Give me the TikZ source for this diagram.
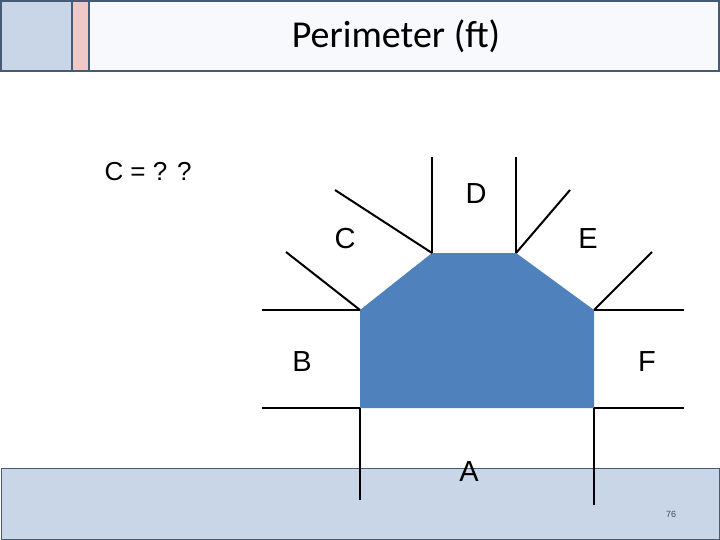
\documentclass[tikz,border=0pt]{standalone}
\usepackage{fontspec}
\setmainfont{Liberation Sans}
\newfontfamily\titlefont{Carlito}
\begin{document}
\begin{tikzpicture}[x=1pt,y=-1pt,
  seg/.style={line width=2pt,black},
  lab/.style={font=\fontsize{29}{32}\selectfont}]
\useasboundingbox (0,0) rectangle (720,540);
\fill[white] (0,0) rectangle (720,540);
\definecolor{bandblue}{RGB}{200,214,232}
\definecolor{bandpink}{RGB}{240,200,200}
\definecolor{bandwhite}{RGB}{248,249,253}
\definecolor{edgec}{RGB}{70,90,115}
\definecolor{fillc}{RGB}{79,129,189}
\draw[fill=bandblue,draw=edgec,line width=1.5pt] (1,1) rectangle (72,71);
\draw[fill=bandpink,draw=edgec,line width=1.5pt] (72,1) rectangle (89,71);
\draw[fill=bandwhite,draw=edgec,line width=1.5pt] (89,1) rectangle (719,71);
\draw[fill=bandblue,draw=edgec,line width=1pt] (1,468) rectangle (719,539);
\node[font=\titlefont\fontsize{38}{40}\selectfont] (title) at (396,36) {Perimeter (ft)};
\fill[fillc] (360,310) -- (432,253) -- (516,253) -- (594,310) -- (594,408) -- (360,408) -- cycle;
\coordinate (p1) at (360,310); \coordinate (p2) at (432,253);
\coordinate (p3) at (516,253); \coordinate (p4) at (594,310);
\coordinate (p5) at (594,408); \coordinate (p6) at (360,408);
\coordinate (q1) at (262,310); \coordinate (q2) at (286,252);
\coordinate (q3) at (335,190); \coordinate (q4) at (432,157);
\coordinate (q5) at (516,157); \coordinate (q6) at (570,190);
\coordinate (q7) at (652,252); \coordinate (q8) at (684,310);
\coordinate (q9) at (262,408); \coordinate (q10) at (360,500);
\coordinate (q11) at (684,408); \coordinate (q12) at (594,505);
\draw[seg] (q1)--(p1); \draw[seg] (q2)--(p1);
\draw[seg] (q3)--(p2); \draw[seg] (q4)--(p2);
\draw[seg] (q5)--(p3); \draw[seg] (q6)--(p3);
\draw[seg] (q7)--(p4); \draw[seg] (q8)--(p4);
\draw[seg] (q9)--(p6); \draw[seg] (q10)--(p6);
\draw[seg] (q11)--(p5); \draw[seg] (q12)--(p5);
\node[lab] (lD) at (476,194) {D};
\node[lab] (lC) at (345,239) {C};
\node[lab] (lE) at (588,239) {E};
\node[lab] (lB) at (302,362) {B};
\node[lab] (lF) at (647,362) {F};
\node[lab] (lA) at (469,472) {A};
\node[font=\fontsize{26}{30}\selectfont] (q) at (148,172) {C = ? ?};
\node[font=\fontsize{9}{10}\selectfont,text=black!70] (pg) at (671,514) {76};
\end{tikzpicture}
\end{document}
